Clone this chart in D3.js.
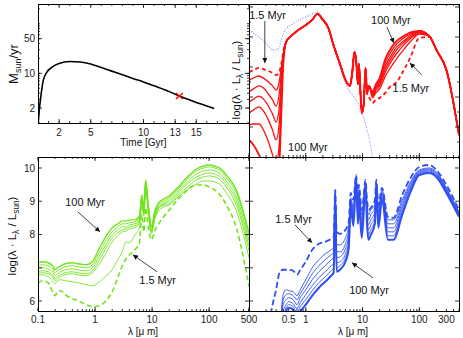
<!DOCTYPE html>
<html>
<head>
<meta charset="utf-8">
<script src="https://cdn.jsdelivr.net/npm/d3@7"></script>
<style>
  body { margin: 0; background: #fff; }
  text { font-family: "Liberation Sans", Arial, Helvetica, sans-serif; }
</style>
</head>
<body>
<script>
// ---------------------------------------------------------------
// Data
// ---------------------------------------------------------------

// Top-left: star formation history
const SFH_T   = [0.02, 0.12, 0.26, 0.5, 0.83, 1.3, 2, 3, 4, 5, 6, 7, 8, 9, 10, 11, 12, 13, 14, 15, 16, 16.7];
const SFH_SFR = [1.0, 1.8, 3.3, 7.2, 10.5, 13.2, 15.8, 17.4, 17.0, 15.5, 13.1, 11.1, 9.4, 7.9, 6.7, 5.6, 4.7, 3.8, 3.1, 2.6, 2.2, 1.95];
const NOW = [13.4, 3.5];
const TIME_TICKS = [2, 5, 10, 13, 15];
const SFR_TICKS = [2, 10, 50];

// Top-right: red SEDs (1.5 Myr dashed, six solid up to 100 Myr)
const TR_LAM = [0.1, 0.12, 0.15, 0.18, 0.22, 0.26, 0.3, 0.34, 0.37, 0.4, 0.45, 0.55, 0.7, 1, 1.3, 1.6, 2, 2.5, 3, 4,
  5, 6, 6.6, 7.2, 7.7, 8.3, 8.6, 9.7, 10.5, 11.3, 12, 13, 15, 17, 20, 25, 30, 40, 50, 70, 100, 150, 200, 300, 500];
const TR_DASH = [7.83, 7.90, 7.97, 7.93, 7.87, 7.80, 7.73, 7.83, 8.10, 8.50, 8.83, 9.03, 9.20, 9.40, 9.57, 9.77, 9.57, 9.30, 8.80, 8.10,
  7.57, 7.37, 7.83, 8.50, 8.23, 7.43, 8.10, 6.47, 6.77, 7.97, 7.13, 7.00, 6.80, 6.90, 6.97, 7.13, 7.33, 7.50, 7.80, 8.33, 8.97, 9.00, 8.57, 7.90, 5.73];
const TR_S6 = [7.57, 7.63, 7.70, 7.63, 7.50, 7.37, 7.23, 7.50, 7.97, 8.43, 8.83, 9.03, 9.20, 9.40, 9.57, 9.77, 9.57, 9.30, 8.80, 8.10,
  7.57, 7.37, 7.83, 8.50, 8.23, 7.43, 8.10, 6.47, 6.77, 7.97, 7.13, 7.37, 6.97, 7.13, 7.27, 7.68, 7.93, 8.28, 8.52, 8.85, 9.10, 9.03, 8.57, 7.90, 5.73];
const TR_S5 = [7.17, 7.27, 7.37, 7.30, 7.10, 6.90, 6.70, 7.10, 7.77, 8.37, 8.83, 9.03, 9.20, 9.40, 9.57, 9.77, 9.57, 9.30, 8.80, 8.10,
  7.57, 7.37, 7.83, 8.50, 8.23, 7.43, 8.10, 6.47, 6.77, 7.97, 7.13, 7.37, 7.03, 7.20, 7.37, 7.82, 8.10, 8.45, 8.68, 8.95, 9.13, 9.03, 8.57, 7.90, 5.73];
const TR_S4 = [6.83, 6.93, 7.03, 6.93, 6.70, 6.43, 6.17, 6.63, 7.50, 8.30, 8.83, 9.03, 9.20, 9.40, 9.57, 9.77, 9.57, 9.30, 8.80, 8.10,
  7.57, 7.37, 7.83, 8.50, 8.23, 7.43, 8.10, 6.47, 6.77, 7.97, 7.13, 7.37, 7.07, 7.27, 7.43, 7.92, 8.20, 8.57, 8.77, 9.00, 9.17, 9.03, 8.57, 7.90, 5.73];
const TR_S3 = [6.47, 6.57, 6.67, 6.53, 6.23, 5.90, 5.57, 6.10, 7.23, 8.23, 8.83, 9.03, 9.20, 9.40, 9.57, 9.77, 9.57, 9.30, 8.80, 8.10,
  7.57, 7.37, 7.83, 8.50, 8.23, 7.43, 8.10, 6.47, 6.77, 7.97, 7.13, 7.37, 7.10, 7.30, 7.50, 8.02, 8.30, 8.67, 8.83, 9.05, 9.17, 9.03, 8.57, 7.90, 5.73];
const TR_S2 = [6.07, 6.10, 6.10, 5.90, 5.50, 5.07, 4.73, 5.40, 6.90, 8.17, 8.83, 9.03, 9.20, 9.40, 9.57, 9.77, 9.57, 9.30, 8.80, 8.10,
  7.57, 7.37, 7.83, 8.50, 8.23, 7.43, 8.10, 6.47, 6.77, 7.97, 7.13, 7.37, 7.13, 7.37, 7.57, 8.13, 8.43, 8.77, 8.93, 9.10, 9.20, 9.03, 8.57, 7.90, 5.73];
const TR_S1 = [5.57, 5.40, 5.07, 4.73, 4.40, 4.23, 4.23, 4.73, 6.40, 8.07, 8.83, 9.03, 9.20, 9.40, 9.57, 9.77, 9.57, 9.30, 8.80, 8.10,
  7.57, 7.37, 7.83, 8.50, 8.23, 7.43, 8.10, 6.47, 6.77, 7.97, 7.13, 7.37, 7.17, 7.40, 7.63, 8.25, 8.55, 8.87, 9.00, 9.15, 9.20, 9.03, 8.57, 7.90, 5.73];
// blue dotted (unattenuated stars)
const TR_STARS = [9.23, 9.13, 9.00, 8.87, 8.70, 8.57, 8.57, 8.67, 8.90, 9.10, 9.27, 9.40, 9.53, 9.67, 9.77, 9.83, 9.67, 9.33, 8.80, 8.03,
  7.47, 7.17, 7.07, 6.97, 6.90, 6.80, 6.73, 6.50, 6.30, 6.10, 5.90, 5.63, 5.00, null, null, null, null, null, null, null, null, null, null, null, null];

// Bottom-left: green SEDs
const BL_LAM = [0.1, 0.12, 0.15, 0.18, 0.2, 0.22, 0.25, 0.3, 0.4, 0.5, 0.7, 0.9, 1.2, 1.5, 2, 2.5, 3, 3.5, 4, 5,
  6, 6.6, 7.2, 7.7, 8.6, 9.7, 11.3, 13, 15, 20, 30, 40, 60, 80, 100, 150, 200, 300, 500];
const BL_S1 = [7.15, 7.18, 7.15, 7.06, 6.94, 7.00, 7.06, 7.12, 7.15, 7.12, 7.09, 7.18, 7.60, 7.90, 8.20, 8.32, 8.41, 8.41, 8.44, 8.44,
  8.56, 9.19, 8.80, 9.64, 8.89, 8.26, 8.74, 8.95, 9.04, 9.16, 9.46, 9.70, 9.97, 10.06, 10.09, 10.00, 9.79, 9.34, 8.05];
const BL_S2 = [7.06, 7.09, 7.06, 6.97, 6.85, 6.91, 6.97, 7.03, 7.06, 7.03, 7.00, 7.09, 7.48, 7.78, 8.08, 8.23, 8.32, 8.32, 8.35, 8.38,
  8.50, 9.13, 8.74, 9.58, 8.83, 8.20, 8.68, 8.89, 8.98, 9.10, 9.40, 9.64, 9.91, 10.00, 10.03, 9.94, 9.70, 9.25, 7.96];
const BL_S3 = [6.97, 7.00, 6.97, 6.88, 6.76, 6.82, 6.88, 6.94, 6.97, 6.94, 6.91, 7.00, 7.36, 7.66, 7.99, 8.14, 8.23, 8.23, 8.29, 8.32,
  8.44, 9.07, 8.68, 9.52, 8.77, 8.14, 8.62, 8.83, 8.92, 9.04, 9.34, 9.55, 9.82, 9.91, 9.94, 9.85, 9.61, 9.13, 7.81];
const BL_S4 = [6.88, 6.91, 6.88, 6.79, 6.67, 6.73, 6.79, 6.85, 6.88, 6.85, 6.82, 6.91, 7.24, 7.54, 7.90, 8.05, 8.14, 8.17, 8.23, 8.26,
  8.41, 9.04, 8.65, 9.49, 8.74, 8.11, 8.59, 8.80, 8.89, 8.98, 9.28, 9.49, 9.73, 9.82, 9.85, 9.76, 9.52, 9.01, 7.66];
const BL_S5 = [6.82, 6.85, 6.82, 6.73, 6.61, 6.67, 6.73, 6.79, 6.82, 6.79, 6.76, 6.85, 7.12, 7.39, 7.78, 7.96, 8.08, 8.11, 8.17, 8.20,
  8.35, 8.98, 8.62, 9.46, 8.71, 8.08, 8.56, 8.77, 8.86, 8.92, 9.22, 9.40, 9.64, 9.73, 9.76, 9.67, 9.43, 8.89, 7.51];
const BL_S6 = [6.76, 6.79, 6.73, 6.61, 6.52, 6.61, 6.64, 6.61, 6.58, 6.55, 6.49, 6.46, 6.58, 6.73, 6.94, 7.24, 7.48, 7.78, 7.75, 7.99,
  8.20, 8.86, 8.56, 9.40, 8.65, 8.02, 8.50, 8.71, 8.80, 8.89, 9.16, 9.34, 9.52, 9.61, 9.61, 9.52, 9.25, 8.71, 7.30];
const BL_DASH = [6.55, 6.61, 6.55, 6.28, 6.16, 6.28, 6.31, 6.19, 6.07, 6.01, 5.89, 5.83, 5.86, 5.98, 6.28, 6.70, 7.06, 7.27, 7.39, 7.54,
  7.75, 8.59, 8.08, 8.80, 8.20, 7.84, 8.14, 8.32, 8.47, 8.74, 9.10, 9.31, 9.49, 9.49, 9.43, 9.22, 8.89, 8.20, 6.43];

// Bottom-right: blue SEDs
const BR_LAM = [0.2, 0.22, 0.25, 0.3, 0.35, 0.4, 0.45, 0.5, 0.6, 0.7, 0.8, 1, 1.3, 1.7, 2.2, 2.8, 3.1, 3.3, 3.5, 4,
  5, 5.7, 6.2, 6.9, 7.7, 8.3, 8.6, 9.7, 11.3, 12, 12.7, 14, 16.5, 17.5, 19, 22, 28, 35, 50, 70, 100, 150, 200, 300, 500];
const BR_DASH = [4.53, 5.14, 5.74, 6.34, 6.88, 6.94, 6.94, 6.94, 6.91, 6.79, 6.94, 7.18, 7.54, 7.72, 7.78, 7.87, 7.93, 9.34, 8.08, 8.02,
  8.14, 8.38, 9.25, 9.04, 9.79, 9.04, 9.49, 8.74, 9.64, 9.04, 8.74, 8.80, 9.04, 9.64, 8.89, 9.40, 8.53, 8.50, 9.19, 9.70, 10.03, 10.09, 9.94, 9.49, 8.74];
const BR_S6 = [null, null, null, null, 5.0, 6.19, 6.34, 6.31, 6.28, 6.16, 6.34, 6.64, 7.00, 7.24, 7.42, 7.54, 7.60, 9.28, 7.69, 7.69,
  7.90, 8.26, 9.10, 8.80, 9.73, 8.89, 9.34, 8.59, 9.55, 8.89, 8.59, 8.74, 8.89, 9.55, 8.80, 9.34, 8.44, 8.44, 9.04, 9.58, 9.94, 10.00, 9.88, 9.40, 8.68];
const BR_S5 = [null, null, null, null, 5.0, 6.04, 6.19, 6.22, 6.16, 6.04, 6.22, 6.49, 6.82, 7.06, 7.24, 7.39, 7.45, 9.25, 7.48, 7.48,
  7.72, 8.11, 9.04, 8.68, 9.73, 8.80, 9.28, 8.44, 9.52, 8.80, 8.44, 8.59, 8.80, 9.52, 8.68, 9.28, 8.32, 8.32, 8.95, 9.52, 9.91, 9.97, 9.85, 9.37, 8.65];
const BR_S4 = [null, null, null, null, 5.0, 5.89, 6.04, 6.10, 6.04, 5.89, 6.10, 6.34, 6.64, 6.88, 7.06, 7.24, 7.30, 9.22, 7.30, 7.33,
  7.57, 7.96, 8.98, 8.56, 9.70, 8.68, 9.19, 8.29, 9.49, 8.68, 8.29, 8.44, 8.68, 9.49, 8.56, 9.22, 8.20, 8.20, 8.86, 9.46, 9.88, 9.94, 9.82, 9.34, 8.62];
const BR_S3 = [null, null, null, null, 5.0, 5.68, 5.89, 5.98, 5.92, 5.77, 5.95, 6.19, 6.46, 6.70, 6.88, 7.06, 7.12, 9.19, 7.15, 7.18,
  7.42, 7.81, 8.92, 8.44, 9.70, 8.56, 9.10, 8.14, 9.46, 8.56, 8.14, 8.29, 8.56, 9.46, 8.44, 9.16, 8.08, 8.08, 8.77, 9.40, 9.85, 9.91, 9.79, 9.31, 8.59];
const BR_S2 = [null, null, null, null, 5.0, 5.44, 5.80, 5.89, 5.83, 5.65, 5.83, 6.04, 6.31, 6.55, 6.73, 6.91, 7.00, 9.16, 7.00, 7.06,
  7.30, 7.69, 8.86, 8.35, 9.67, 8.44, 9.04, 8.02, 9.43, 8.44, 7.99, 8.14, 8.44, 9.43, 8.32, 9.10, 7.96, 7.96, 8.68, 9.34, 9.82, 9.88, 9.76, 9.28, 8.56];
const BR_S1 = [null, null, null, null, 5.0, 5.14, 5.68, 5.80, 5.74, 5.50, 5.68, 5.89, 6.16, 6.40, 6.58, 6.76, 6.85, 9.13, 6.88, 6.94,
  7.18, 7.57, 8.80, 8.26, 9.64, 8.32, 8.98, 7.90, 9.40, 8.32, 7.84, 7.99, 8.32, 9.40, 8.20, 9.04, 7.84, 7.84, 8.59, 9.28, 9.79, 9.85, 9.73, 9.25, 8.53];

const LAM_LABELS_L = [0.1, 1, 10, 100, 500];
const LAM_LABELS_R = [0.5, 1, 10, 100, 300];
const LOGL_LABELS = [6, 8, 9, 10];

// Age annotations: [text, x, y, arrowFromX, arrowFromY, arrowToX, arrowToY] in data units
const NOTES_TR = [
  ['1.5 Myr', 0.212, 9.6, 0.19, 9.53, 0.19, 8.13],
  ['100 Myr', 1.09, 5.2, null, null, null, null],
  ['100 Myr', 31.6, 9.43, 26.9, 9.33, 35.7, 8.8],
  ['1.5 Myr', 71, 7.17, 111, 7.73, 68.4, 8.13]
];
const NOTES_BL = [
  ['100 Myr', 0.67, 8.86, 0.50, 8.68, 1.22, 8.08],
  ['1.5 Myr', 12.5, 6.52, 12.2, 6.88, 4.6, 7.39]
];
const NOTES_BR = [
  ['1.5 Myr', 0.61, 8.35, 0.646, 8.29, 1.29, 7.75],
  ['100 Myr', 13.0, 6.22, 15.2, 6.70, 6.5, 7.15]
];

// ---------------------------------------------------------------
// Layout & scales
// ---------------------------------------------------------------
const W = 463, H = 338;
const TL = {x0: 38, x1: 249, y0: 4, y1: 123};
const TR = {x0: 249, x1: 459, y0: 4, y1: 157};
const BL = {x0: 38, x1: 249, y0: 157, y1: 311};
const BR = {x0: 249, x1: 459, y0: 157, y1: 311};

const xTime = d3.scaleLinear([0, 20], [TL.x0, TL.x1]);
const ySfr  = d3.scaleLog([1, 250], [TL.y1, TL.y0]);
const xLamL = d3.scaleLog([0.1, 500], [BL.x0, BL.x1]);
const xLamR = d3.scaleLog([0.1, 500], [BR.x0, BR.x1]);
const yTR   = d3.scaleLinear([5.0, 10.1], [TR.y1, TR.y0]);
const yB    = d3.scaleLinear([5.7, 10.33], [BL.y1, BL.y0]);

const RED = '#ff1010', GREEN = '#70e41c', BLUE = '#2f4ff2', DOTBLUE = '#7888ff';

const svg = d3.select('body').append('svg')
  .attr('width', W).attr('height', H)
  .style('display', 'block');

const defs = svg.append('defs');
defs.append('marker')
  .attr('id', 'arr')
  .attr('viewBox', '0 0 10 10')
  .attr('refX', 10).attr('refY', 5)
  .attr('markerUnits', 'userSpaceOnUse')
  .attr('markerWidth', 6).attr('markerHeight', 5)
  .attr('orient', 'auto')
  .append('path').attr('d', 'M0,0L10,5L0,10z').attr('fill', '#111');

[['cTL', TL], ['cTR', TR], ['cBL', BL], ['cBR', BR]].forEach(([id, b]) => {
  defs.append('clipPath').attr('id', id).append('rect')
    .attr('x', b.x0).attr('y', b.y0).attr('width', b.x1 - b.x0).attr('height', b.y1 - b.y0);
});

// ---------------------------------------------------------------
// Helpers
// ---------------------------------------------------------------
function logMinors(lo, hi) {
  const out = [];
  for (let e = -2; e <= 4; e++) {
    for (let m = 1; m <= 9; m++) {
      const v = m * Math.pow(10, e);
      if (v >= lo * 0.999 && v <= hi * 1.001) out.push(+v.toPrecision(3));
    }
  }
  return out;
}

function xTicks(b, x, vals, len) {
  const g = svg.append('g').attr('stroke', '#000').attr('stroke-width', 0.8);
  vals.forEach(v => {
    const px = x(v);
    g.append('line').attr('x1', px).attr('x2', px).attr('y1', b.y1).attr('y2', b.y1 - len);
    g.append('line').attr('x1', px).attr('x2', px).attr('y1', b.y0).attr('y2', b.y0 + len);
  });
}

function yTicks(b, y, vals, len) {
  const g = svg.append('g').attr('stroke', '#000').attr('stroke-width', 0.8);
  vals.forEach(v => {
    const py = y(v);
    g.append('line').attr('y1', py).attr('y2', py).attr('x1', b.x0).attr('x2', b.x0 + len);
    g.append('line').attr('y1', py).attr('y2', py).attr('x1', b.x1).attr('x2', b.x1 - len);
  });
}

function frame(b) {
  svg.append('rect')
    .attr('x', b.x0 + 0.5).attr('y', b.y0 + 0.5)
    .attr('width', b.x1 - b.x0).attr('height', b.y1 - b.y0)
    .attr('fill', 'none').attr('stroke', '#000').attr('stroke-width', 1);
}

function series(clip, lam, vals, x, y, color, width, dash) {
  const pts = lam.map((l, i) => [l, vals[i]]);
  const line = d3.line()
    .defined(d => d[1] != null)
    .x(d => x(d[0]))
    .y(d => y(d[1]))
    .curve(d3.curveMonotoneX);
  svg.append('path')
    .attr('clip-path', `url(#${clip})`)
    .attr('d', line(pts))
    .attr('fill', 'none')
    .attr('stroke', color)
    .attr('stroke-width', width)
    .attr('stroke-linejoin', 'round')
    .attr('stroke-dasharray', dash || null);
}

function notes(list, x, y) {
  list.forEach(([t, tx, ty, ax, ay, bx, by]) => {
    svg.append('text')
      .attr('x', x(tx)).attr('y', y(ty))
      .attr('text-anchor', 'middle')
      .attr('font-size', 11)
      .attr('fill', '#111')
      .text(t);
    if (ax != null) {
      svg.append('line')
        .attr('x1', x(ax)).attr('y1', y(ay))
        .attr('x2', x(bx)).attr('y2', y(by))
        .attr('stroke', '#111').attr('stroke-width', 0.8)
        .attr('marker-end', 'url(#arr)');
    }
  });
}

function tickLabelsX(x, vals, yBase) {
  vals.forEach(v => {
    svg.append('text')
      .attr('x', x(v)).attr('y', yBase)
      .attr('text-anchor', 'middle')
      .attr('font-size', 10)
      .attr('fill', '#222')
      .text(v);
  });
}

function tickLabelsY(y, vals, xRight) {
  vals.forEach(v => {
    svg.append('text')
      .attr('x', xRight).attr('y', y(v) + 3.6)
      .attr('text-anchor', 'end')
      .attr('font-size', 10)
      .attr('fill', '#222')
      .text(v);
  });
}

function logLabel(cx, cy, size) {
  const t = svg.append('text')
    .attr('transform', `translate(${cx},${cy}) rotate(-90)`)
    .attr('text-anchor', 'middle')
    .attr('font-size', size)
    .attr('fill', '#111');
  t.append('tspan').text('log(λ · L');
  t.append('tspan').attr('font-size', size * 0.72).attr('dy', 3).text('λ');
  t.append('tspan').attr('dy', -3).text(' / L');
  t.append('tspan').attr('font-size', size * 0.72).attr('dy', 3).text('sun');
  t.append('tspan').attr('dy', -3).text(')');
}

// ---------------------------------------------------------------
// Top-left: SFH
// ---------------------------------------------------------------
svg.append('path')
  .attr('clip-path', 'url(#cTL)')
  .attr('d', d3.line()
    .x((d, i) => xTime(SFH_T[i]))
    .y(d => ySfr(d))
    .curve(d3.curveMonotoneX)(SFH_SFR))
  .attr('fill', 'none').attr('stroke', '#000').attr('stroke-width', 1.6);

const nx = xTime(NOW[0]), ny = ySfr(NOW[1]);
svg.append('path')
  .attr('d', `M${nx - 3.5},${ny - 3}L${nx + 3.5},${ny + 3}M${nx - 3.5},${ny + 3}L${nx + 3.5},${ny - 3}`)
  .attr('stroke', '#ff0000').attr('stroke-width', 1.4);

xTicks(TL, xTime, d3.range(1, 20), 2);
xTicks(TL, xTime, TIME_TICKS, 4);
yTicks(TL, ySfr, logMinors(1, 250), 2);
yTicks(TL, ySfr, SFR_TICKS, 4);
frame(TL);
tickLabelsX(xTime, TIME_TICKS, 136);
tickLabelsY(ySfr, SFR_TICKS, 35);
svg.append('text').attr('x', xTime(10)).attr('y', 146)
  .attr('text-anchor', 'middle').attr('font-size', 10).attr('fill', '#111')
  .text('Time [Gyr]');
{
  const t = svg.append('text')
    .attr('transform', 'translate(18,64) rotate(-90)')
    .attr('text-anchor', 'middle').attr('font-size', 13).attr('fill', '#111');
  t.append('tspan').text('M');
  t.append('tspan').attr('font-size', 9).attr('dy', 3).text('sun');
  t.append('tspan').attr('dy', -3).text('/yr');
}

// ---------------------------------------------------------------
// Top-right: red SEDs
// ---------------------------------------------------------------
series('cTR', TR_LAM, TR_STARS, xLamR, yTR, DOTBLUE, 1.1, '1,1.6');
[TR_S6, TR_S5, TR_S4, TR_S3, TR_S2].forEach(s => series('cTR', TR_LAM, s, xLamR, yTR, RED, 1.3));
series('cTR', TR_LAM, TR_S1, xLamR, yTR, RED, 1.9);
series('cTR', TR_LAM, TR_DASH, xLamR, yTR, RED, 1.8, '4,3');
xTicks(TR, xLamR, logMinors(0.1, 500), 2);
xTicks(TR, xLamR, [0.1, 1, 10, 100], 4);
yTicks(TR, yTR, [5.5, 6.5, 7.5, 8.5, 9.5], 2);
yTicks(TR, yTR, [6, 7, 8, 9, 10], 4);
frame(TR);
notes(NOTES_TR, xLamR, yTR);

// ---------------------------------------------------------------
// Bottom-left: green SEDs
// ---------------------------------------------------------------
[BL_S6, BL_S5, BL_S4, BL_S3, BL_S2].forEach(s => series('cBL', BL_LAM, s, xLamL, yB, GREEN, 0.9));
series('cBL', BL_LAM, BL_S1, xLamL, yB, GREEN, 1.4);
series('cBL', BL_LAM, BL_DASH, xLamL, yB, GREEN, 1.6, '5,3');
xTicks(BL, xLamL, logMinors(0.1, 500), 2);
xTicks(BL, xLamL, [0.1, 1, 10, 100], 4);
yTicks(BL, yB, [6, 7, 8, 9, 10], 4);
frame(BL);
tickLabelsX(xLamL, LAM_LABELS_L, 323);
tickLabelsY(yB, LOGL_LABELS, 35);
notes(NOTES_BL, xLamL, yB);

// ---------------------------------------------------------------
// Bottom-right: blue SEDs
// ---------------------------------------------------------------
[BR_S6, BR_S5, BR_S4, BR_S3, BR_S2].forEach(s => series('cBR', BR_LAM, s, xLamR, yB, BLUE, 0.9));
series('cBR', BR_LAM, BR_S1, xLamR, yB, BLUE, 2.0);
series('cBR', BR_LAM, BR_DASH, xLamR, yB, BLUE, 1.8, '6,3');
xTicks(BR, xLamR, logMinors(0.1, 500), 2);
xTicks(BR, xLamR, [0.1, 1, 10, 100], 4);
yTicks(BR, yB, [6, 7, 8, 9, 10], 4);
frame(BR);
tickLabelsX(xLamR, LAM_LABELS_R, 323);
notes(NOTES_BR, xLamR, yB);

// axis titles
logLabel(16, 236, 11.5);
logLabel(240, 80, 11.5);
[143, 353].forEach(cx => {
  svg.append('text').attr('x', cx).attr('y', 335)
    .attr('text-anchor', 'middle').attr('font-size', 10).attr('fill', '#111')
    .text('λ [μ m]');
});
</script>
</body>
</html>
